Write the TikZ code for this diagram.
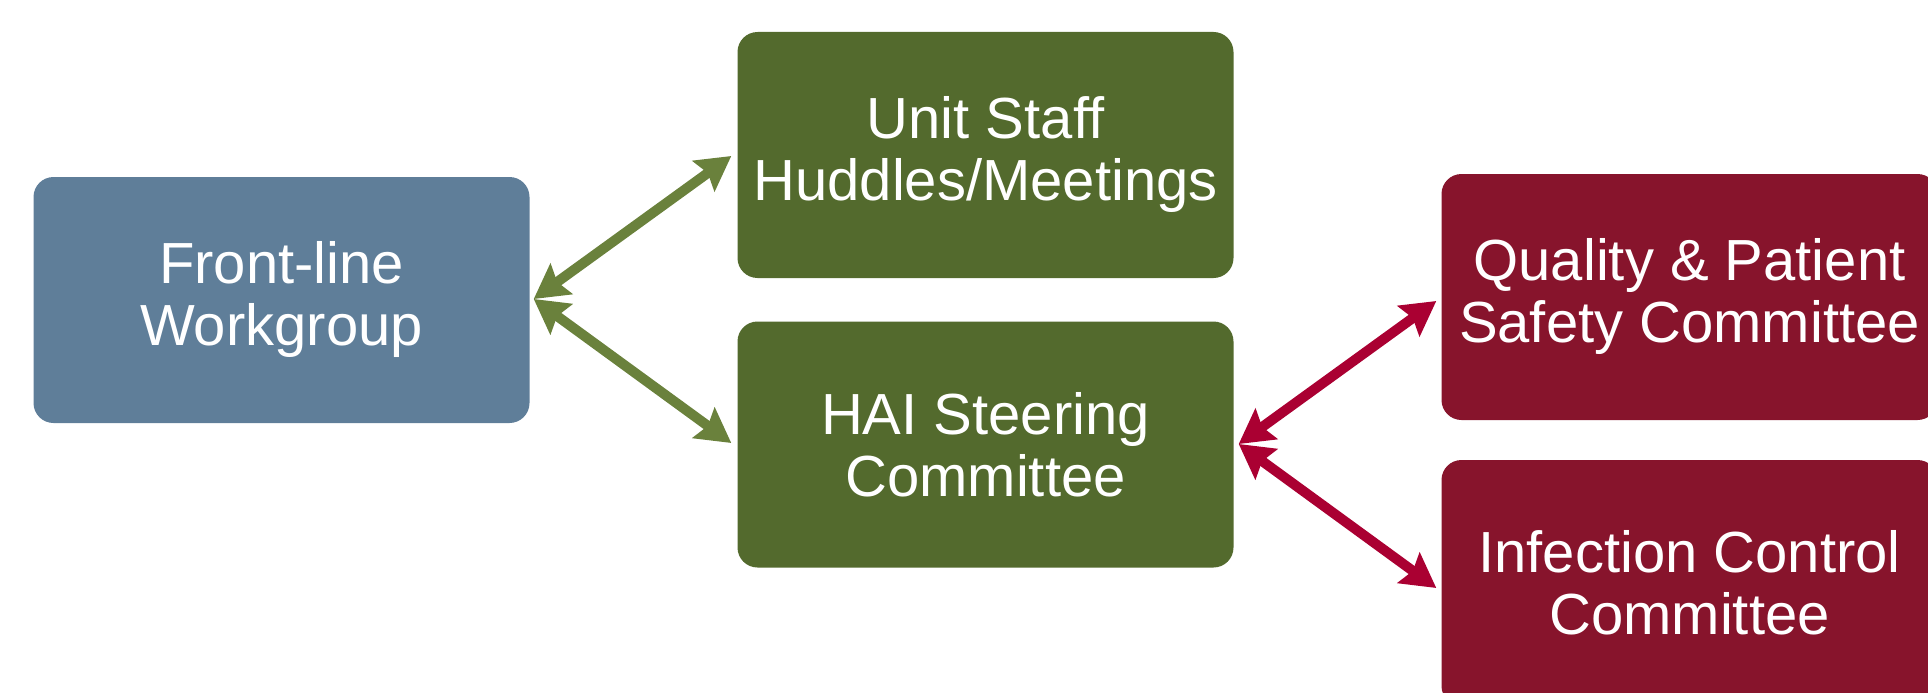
\documentclass[tikz,border=0pt]{standalone}
\usepackage{fontspec}
\setmainfont{Liberation Sans}
\usetikzlibrary{arrows.meta,calc}

\definecolor{frontblue}{HTML}{5F7E99}
\definecolor{boxgreen}{HTML}{536A2D}
\definecolor{arrowgreen}{HTML}{6A813C}
\definecolor{boxmaroon}{HTML}{87142C}
\definecolor{arrowred}{HTML}{AA0032}

\tikzset{
  panel/.style={rectangle, rounded corners=20pt, inner sep=0pt,
    minimum height=246pt, minimum width=496pt, text=white, align=center,
    font=\fontsize{58}{62}\selectfont},
  link/.style={line width=10pt,
    {Stealth[length=34pt,width=37pt,inset=5pt]}-{Stealth[length=34pt,width=37pt,inset=5pt]}},
}

\begin{document}
\begin{tikzpicture}[x=1pt,y=-1pt]
\useasboundingbox (0,0) rectangle (1928,693);
\clip (0,0) rectangle (1928,693);

% boxes
\node[panel, fill=frontblue] (front) at (281.5,300) {Front-line\\Workgroup};
\node[panel, fill=boxgreen] (unit) at (985.5,155) {Unit Staff\\Huddles/Meetings};
\node[panel, fill=boxgreen] (hai) at (985.5,444.5) {HAI Steering\\Committee};
\node[panel, fill=boxmaroon] (qps) at (1689.5,297) {Quality \& Patient\\Safety Committee};
\node[panel, fill=boxmaroon] (ic) at (1689.5,583) {Infection Control\\Committee};

% two-way links
\draw[link, arrowgreen] ($(front.east)+(4,-1)$) -- ($(unit.west)+(-6,1)$);
\draw[link, arrowgreen] ($(front.east)+(4,-1)$) -- ($(hai.west)+(-6,-1.5)$);
\draw[link, arrowred] ($(hai.east)+(5,-0.5)$) -- ($(qps.west)+(-5,4)$);
\draw[link, arrowred] ($(hai.east)+(5,-0.5)$) -- ($(ic.west)+(-5,5)$);
\end{tikzpicture}
\end{document}
